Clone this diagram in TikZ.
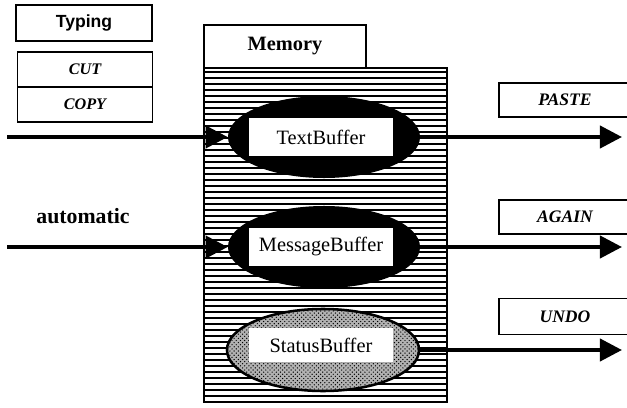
\documentclass[tikz,border=0pt]{standalone}
\usepackage{fontspec}
\setmainfont{Liberation Serif}
\setsansfont{Liberation Sans}
\usetikzlibrary{shapes.geometric, arrows.meta, patterns, positioning, calc}

\tikzset{
  buffer/.style={ellipse, fill=black, minimum width=4.8cm, minimum height=2.05cm, inner sep=0pt},
  nametag/.style={fill=white, minimum width=3.6cm, minimum height=0.97cm, inner sep=0pt, font=\fontsize{14.5}{16}\selectfont},
  keybox/.style={draw, line width=0.8pt, fill=white, inner sep=0pt, font=\bfseries\itshape\fontsize{12.5}{14}\selectfont},
  flow/.style={line width=2.8pt, -{Triangle[length=0.55cm, width=0.55cm]}}
}

\begin{document}
\begin{tikzpicture}[x=0.025cm, y=-0.025cm]
    \useasboundingbox (0,0) rectangle (627,408);

    % keys on the left
    \node[draw, line width=2pt, minimum width=3.4cm, minimum height=0.9cm, font=\sffamily\bfseries\fontsize{12.5}{14}\selectfont] (typing) at (84,23) {Typing};
    \node[keybox, minimum width=3.38cm, minimum height=0.875cm, font=\bfseries\itshape\fontsize{11.5}{13}\selectfont] (cut) at (85,69.5) {CUT};
    \node[keybox, minimum width=3.38cm, minimum height=0.875cm, font=\bfseries\itshape\fontsize{11.5}{13}\selectfont] (copy) at (85,104.5) {COPY};
    \node[font=\bfseries\fontsize{15.5}{17}\selectfont] (auto) at (83,216) {automatic};

    % memory block
    \node[draw, line width=0.8pt, minimum width=4.05cm, minimum height=1.075cm, inner sep=0pt, font=\bfseries\fontsize{14.5}{16}\selectfont] (mem) at (285,46.5) {Memory};
    \foreach \y in {72,78,...,400}
        \draw[line width=1.6pt] (204,\y) -- (447,\y);
    \draw[line width=1.4pt] (204,68) rectangle (447,402);% Hatched Store

    % buffers
    \node[buffer] (tb) at (324,137) {};
    \node[buffer] (mb) at (324,247) {};
    \node[buffer, fill=gray!60, draw, line width=1.8pt, pattern=crosshatch dots, preaction={fill=gray!60}] (sb) at (323,350) {};
    \node[nametag] (tbt) at (321,137) {TextBuffer};
    \node[nametag] (mbt) at (321,247) {MessageBuffer};
    \node[nametag, minimum height=0.85cm] (sbt) at (321,345) {StatusBuffer};

    % keys on the right
    \node[keybox, minimum width=3.3cm, minimum height=0.85cm] (paste) at (565,100) {PASTE};
    \node[keybox, minimum width=3.3cm, minimum height=0.85cm] (again) at (565,217) {AGAIN};
    \node[keybox, minimum width=3.3cm, minimum height=0.92cm] (undo) at (565,316.5) {UNDO};

    % flows
    \coordinate (in1) at (7,137);
    \coordinate (in2) at (7,247);
    \coordinate (out1) at (622,137);
    \coordinate (out2) at (622,247);
    \coordinate (out3) at (622,350);

    \draw[flow] (in1) -- (tb.west);
    \draw[flow] (in2) -- (mb.west);
    \draw[flow] (tb.east) -- (out1);
    \draw[flow] (mb.east) -- (out2);
    \draw[flow] (sb.east) -- (out3);
\end{tikzpicture}
\end{document}
